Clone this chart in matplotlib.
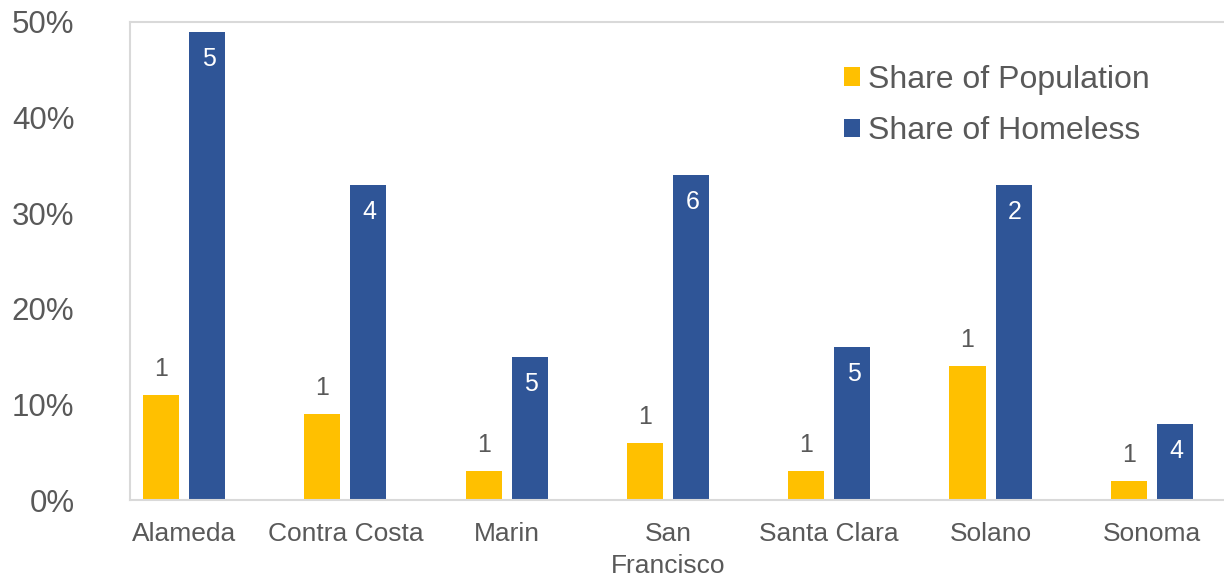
import numpy as np
import matplotlib.pyplot as plt
from matplotlib.ticker import PercentFormatter

plt.rcParams['font.family'] = ['Liberation Sans', 'DejaVu Sans']

counties = ['Alameda', 'Contra Costa', 'Marin', 'San\nFrancisco',
            'Santa Clara', 'Solano', 'Sonoma']
share_population = [0.11, 0.09, 0.03, 0.06, 0.03, 0.14, 0.02]
share_homeless = [0.49, 0.33, 0.15, 0.34, 0.16, 0.33, 0.08]
pop_labels = ['1', '1', '1', '1', '1', '1', '1']
homeless_labels = ['5', '4', '5', '6', '5', '2', '4']

yellow = '#FFC000'
blue = '#2F5597'
text_gray = '#595959'
axis_gray = '#D9D9D9'

fig = plt.figure(figsize=(12.24, 5.77), dpi=100)
ax = fig.add_axes([0.1062, 0.1334, 0.8938, 0.8285])

x = np.arange(len(counties))
w = 0.224
off = 0.143
ax.bar(x - off, share_population, w, color=yellow, label='Share of Population')
ax.bar(x + off, share_homeless, w, color=blue, label='Share of Homeless')

# data labels
for xi, v, lab in zip(x, share_population, pop_labels):
    ax.annotate(lab, xy=(xi - off, v), xytext=(0, 10), textcoords='offset points',
                ha='center', va='bottom', fontsize=18, color=text_gray)
for xi, v, lab in zip(x, share_homeless, homeless_labels):
    ax.annotate(lab, xy=(xi + off, v), xytext=(1, -11), textcoords='offset points',
                ha='center', va='top', fontsize=18, color='white')

ax.set_xlim(-0.335, 6.447)
ax.set_ylim(0, 0.5)
ax.set_yticks(np.arange(0, 0.51, 0.1))
ax.yaxis.set_major_formatter(PercentFormatter(1.0, decimals=0))
ax.set_xticks(x)
ax.set_xticklabels(counties, linespacing=1.4)

ax.tick_params(axis='y', length=0, pad=40, labelsize=22.5, labelcolor=text_gray)
ax.tick_params(axis='x', length=0, pad=16, labelsize=19, labelcolor=text_gray)

for side in ['left', 'bottom', 'top']:
    ax.spines[side].set_color(axis_gray)
    ax.spines[side].set_linewidth(1.5)
ax.spines['right'].set_visible(False)

leg = ax.legend(loc='upper left', bbox_to_anchor=(0.641, 0.937), frameon=False,
                fontsize=23, handlelength=0.5, handleheight=0.5,
                handletextpad=0.25, labelspacing=0.66, borderaxespad=0)
for t in leg.get_texts():
    t.set_color(text_gray)

fig.savefig('out.png', dpi=100)
